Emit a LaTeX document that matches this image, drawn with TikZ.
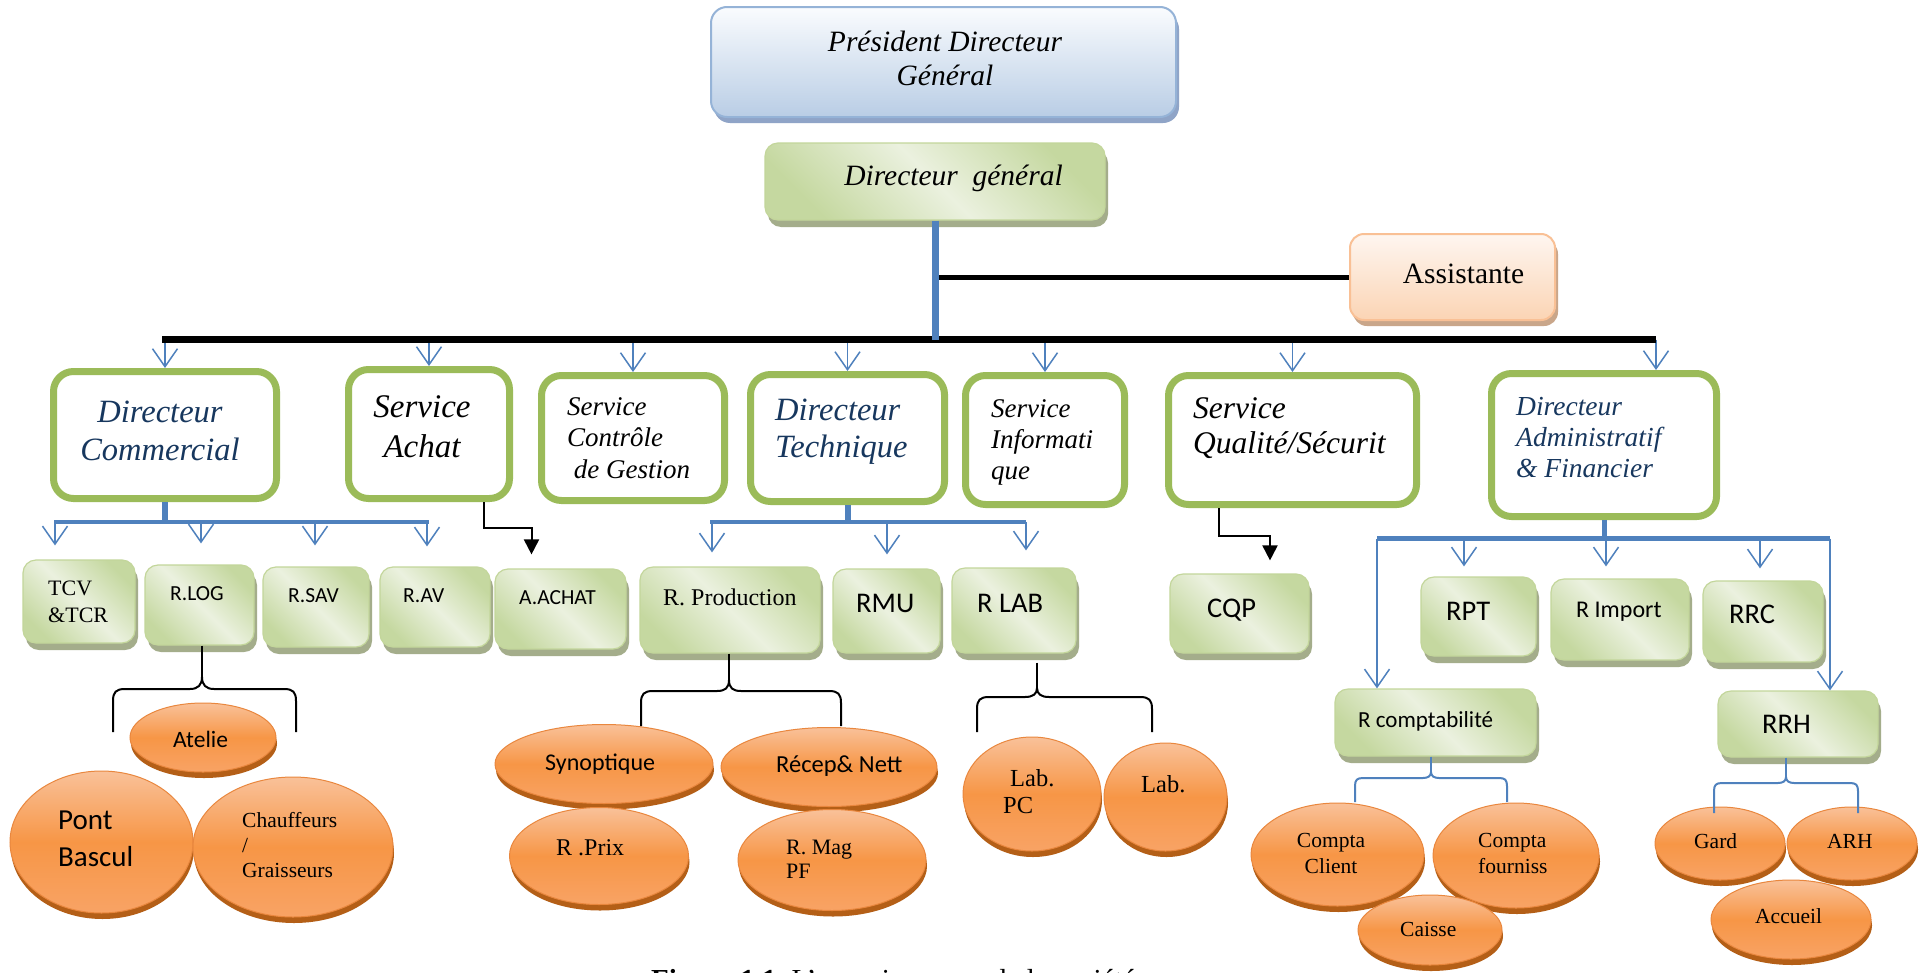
\documentclass[tikz,border=0pt]{standalone}
\usepackage{fontspec}
\setmainfont{Liberation Serif}
\newfontfamily\calib{Carlito}
\usetikzlibrary{arrows.meta,shapes.geometric,shadows}

\begin{document}
\begin{tikzpicture}[x=1pt, y=-1pt,
  lbl/.style={inner sep=0pt, anchor=base west, align=left},
  itxt/.style 2 args={font=\fontsize{#1}{#2}\selectfont\itshape},
  rtxt/.style 2 args={font=\fontsize{#1}{#2}\selectfont},
  stxt/.style 2 args={font=\calib\fontsize{#1}{#2}\selectfont},
  dirbox/.style={rectangle, rounded corners=20pt, draw=gBorder, line width=7pt,
    fill=white, inner sep=0pt},
  gbox/.style={rectangle, rounded corners=13pt, draw=gEdge, line width=1.2pt,
    inner sep=0pt, top color=gDark, bottom color=gDark, middle color=gLight,
    shading angle=-45,
    drop shadow={shadow xshift=3pt, shadow yshift=-7pt, fill=gShade, opacity=1}},
  oval/.style={ellipse, draw=oEdge, line width=1pt, inner sep=0pt,
    top color=oTop, bottom color=oBot, middle color=oMid,
    drop shadow={shadow xshift=1pt, shadow yshift=-6pt, fill=oShade, opacity=1}},
  barb/.style={draw=cBlue, line width=1.5pt, -{Straight Barb[length=18pt,width=25pt]}},
  elbow/.style={draw=black, line width=2pt, -{Triangle[length=15pt,width=15pt]}},
  brc/.style={draw=black, line width=2pt},
  bbrc/.style={draw=cBlue, line width=2pt}]

\definecolor{cBlue}{HTML}{4F81BD}
\definecolor{cNavy}{HTML}{17375E}
\definecolor{gBorder}{HTML}{9BBB59}
\definecolor{gDark}{HTML}{C5D8A0}
\definecolor{gLight}{HTML}{EBF1DF}
\definecolor{gEdge}{HTML}{C3D69B}
\definecolor{gShade}{HTML}{A4AD8B}
\definecolor{pTop}{HTML}{FAFCFE}
\definecolor{pBot}{HTML}{B9CDE5}
\definecolor{pEdge}{HTML}{95B3D7}
\definecolor{pShade}{HTML}{8FA4C7}
\definecolor{aTop}{HTML}{FEF6F0}
\definecolor{aBot}{HTML}{FBD4B4}
\definecolor{aEdge}{HTML}{F9C095}
\definecolor{aShade}{HTML}{C9A68A}
\definecolor{oTop}{HTML}{F9C199}
\definecolor{oMid}{HTML}{F79646}
\definecolor{oBot}{HTML}{F8A365}
\definecolor{oEdge}{HTML}{E9873E}
\definecolor{oShade}{HTML}{B45F17}

%% Geometry: one unit = one pixel of the 1921 x 972 sheet, y grows downwards.
%% Multi-line labels are placed by the baseline of their LAST line.
\fill[white, use as bounding box] (0,0) rectangle (1921,972);

%% ---------- top management ----------
\node[rectangle, rounded corners=16pt, draw=pEdge, line width=2pt, inner sep=0pt,
  top color=pTop, bottom color=pBot,
  drop shadow={shadow xshift=3pt, shadow yshift=-6pt, fill=pShade, opacity=1},
  minimum width=465pt, minimum height=110pt] (pdg) at (943.5,62) {};
\node[lbl, anchor=base, align=center, itxt={29.5}{34}] (pdg-t) at (945,85)
  {Président Directeur\\Général};

\node[gbox, minimum width=340pt, minimum height=77pt] (dg) at (935,181.5) {};
\node[lbl, anchor=base, itxt={29.5}{34}] (dg-t) at (953.5,185) {Directeur~ général};

\node[rectangle, rounded corners=14pt, draw=aEdge, line width=2pt, inner sep=0pt,
  top color=aTop, bottom color=aBot,
  drop shadow={shadow xshift=3pt, shadow yshift=-6pt, fill=aShade, opacity=1},
  minimum width=205pt, minimum height=86pt] (asst) at (1452.5,277) {};
\node[lbl, anchor=base, rtxt={29.5}{34}] (asst-t) at (1463.5,283) {Assistante};

%% ---------- directions and services ----------
\foreach \nm/\cx/\cy/\w/\h in {dc/165/435/223/127, sa/429/434/161/129,
    scg/633/438/183/125, dt/847.5/438/194/127, si/1045/440/159/129,
    sq/1292.5/440/248/129, daf/1604/445/225/143}
  \node[dirbox, minimum width=\w pt, minimum height=\h pt] (\nm) at (\cx,\cy) {};

\node[lbl, anchor=base, align=center, itxt={32.5}{38}, text=cNavy] (dc-t) at (160,460)
  {Directeur\\Commercial};
\node[lbl, anchor=base, align=center, itxt={33}{40}] (sa-t) at (422,457) {Service\\Achat};
\node[lbl, itxt={27}{31.5}] (scg-t) at (567,478) {Service\\Contrôle\\\ de Gestion};
\node[lbl, itxt={32.5}{37}, text=cNavy] (dt-t) at (775,457) {Directeur\\Technique};
\node[lbl, itxt={27}{31}] (si-t) at (991,479) {Service\\Informati\\que};
\node[lbl, itxt={31.5}{35}] (sq-t) at (1193,453) {Service\\Qualité/Sécurit};
\node[lbl, itxt={27.5}{31}, text=cNavy] (daf-t) at (1516,477)
  {Directeur\\Administratif\\\& Financier};

%% ---------- responsables ----------
\foreach \nm/\cx/\cy/\w/\h in {tcv/79/601.5/112/83, rlog/199.5/605/109/80,
    rsav/316/607/106/80, rav/435/607/110/80, aachat/560.5/609/131/80,
    rprod/730/610/180/86, rmu/886.5/611/107/84, rlab/1014/610.5/124/85,
    cqp/1239.5/613.5/139/79, rpt/1478.5/616.5/115/79, rimp/1620/619.5/138/81,
    rrc/1763/621.5/120/81, rcpt/1435.5/722.5/201/67, rrh/1798/724/160/66}
  \node[gbox, minimum width=\w pt, minimum height=\h pt] (\nm) at (\cx,\cy) {};

\node[lbl, rtxt={22}{27}] (tcv-t) at (48,622) {TCV\\\&TCR};
\foreach \nm/\x/\y/\lbl in {rlog/170/600/R.LOG, rsav/288/602/R.SAV,
    rav/403/602/R.AV, aachat/519/604/A.ACHAT}
  \node[lbl, stxt={21.5}{26}] (\nm-t) at (\x,\y) {\lbl};
\node[lbl, rtxt={24}{28}] (rprod-t) at (663,605) {R. Production};
\foreach \nm/\x/\y/\lbl in {rmu/856/612/RMU, rlab/977/612/R LAB, cqp/1207/617/CQP,
    rpt/1446/620/RPT, rrc/1729/623/RRC, rrh/1762/733/RRH}
  \node[lbl, stxt={28.5}{34}] (\nm-t) at (\x,\y) {\lbl};
\node[lbl, stxt={24}{29}] (rimp-t) at (1576,617) {R Import};
\node[lbl, stxt={23}{28}] (rcpt-t) at (1358,727) {R comptabilité};

%% ---------- agents (ovals, upper row first) ----------
\foreach \nm/\cx/\cy/\w/\h in {atelie/203/737.5/146/69, pont/101.5/842/183/142,
    chauff/293/847/200/140, synop/604/764/218/79, recep/829/767/216/79,
    rprix/599/856/179/97, rmag/832/860/188/101, labpc/1032/794/138/114,
    lab/1165.5/797/123/108, cclient/1337.5/854.5/173/103, cfour/1516/855.5/166/105,
    caisse/1430/930/144/70, gard/1720/843.5/130/73, arh/1852/843.5/130/73,
    accueil/1791/919.5/160/79}
  \node[oval, minimum width=\w pt, minimum height=\h pt] (\nm) at (\cx,\cy) {};

%% ---------- main bus ----------
\coordinate (busL) at (162,339.5);
\coordinate (busR) at (1656,339.5);
\foreach \n in {dc,sa,scg,dt,si,sq}
  \draw[barb] (\n.north |- busL) -- (\n.north);
\draw[barb] (busR) -- (busR |- daf.north);
\draw[line width=7pt] (busL) -- (busR);
\draw[line width=5pt] (dg.south |- asst.west) -- (asst.west);
\draw[cBlue, line width=7pt] (dg.south) -- (dg.south |- busL);

%% ---------- commercial ----------
\coordinate (cbusL) at (54,522);
\coordinate (cbusR) at (429,522);
\draw[cBlue, line width=6pt] (dc.south) -- (dc.south |- cbusL);
\foreach \n/\x/\g in {tcv/55/14, rlog/201/21, rsav/315/21, rav/427/20} {
  \coordinate (\n-in) at (\x,522);
  \draw[barb] (\n-in) -- ([yshift=\g pt]\n-in |- \n.north);
}
\draw[cBlue, line width=4.5pt] (cbusL) -- (cbusR);
\draw[elbow] ([xshift=55pt]sa.south) -- ++(0,26) -| ([xshift=-29pt,yshift=14pt]aachat.north);

%% ---------- technique ----------
\coordinate (tbusL) at (710,522);
\coordinate (tbusR) at (1026,522);
\draw[cBlue, line width=6pt] (dt.south) -- (dt.south |- tbusL);
\foreach \n/\x/\g in {rprod/712/14, rmu/887/14, rlab/1026/17} {
  \coordinate (\n-in) at (\x,522);
  \draw[barb] (\n-in) -- ([yshift=\g pt]\n-in |- \n.north);
}
\draw[cBlue, line width=4.5pt] (tbusL) -- (tbusR);
\draw[elbow] ([xshift=-73.5pt]sq.south) -- ++(0,27.5) -| ([xshift=30.5pt,yshift=13pt]cqp.north);

%% ---------- administratif ----------
\coordinate (abusL) at (1377,538.5);
\coordinate (abusR) at (1830,538.5);
\draw[cBlue, line width=5pt] (daf.south) -- (daf.south |- abusL);
\foreach \n/\x/\g in {rpt/1464/10, rimp/1606/12, rrc/1760/12} {
  \coordinate (\n-in) at (\x,538.5);
  \draw[barb] (\n-in) -- ([yshift=\g pt]\n-in |- \n.north);
}
\draw[barb] (abusL) -- (abusL |- rcpt.north);
\draw[barb] (abusR) -- (abusR |- rrh.north);
\draw[cBlue, line width=4.5pt] (abusL) -- (abusR);

%% ---------- braces down to the agents ----------
\draw[brc] ([xshift=2.5pt]rlog.south) -- (202,677);
\draw[brc] (113,732) -- (113,701) .. controls (113,692) and (116,689) .. (125,689)
  -- (190,689) .. controls (198,689) and (202,685) .. (202,677)
  .. controls (202,685) and (206,689) .. (214,689) -- (284,689)
  .. controls (293,689) and (296,692) .. (296,701) -- (296,732);

\draw[brc] ([xshift=-1pt]rprod.south) -- (729,680);
\draw[brc] (641,726) -- (641,703) .. controls (641,694) and (644,691) .. (653,691)
  -- (717,691) .. controls (725,691) and (729,688) .. (729,680)
  .. controls (729,688) and (733,691) .. (741,691) -- (829,691)
  .. controls (838,691) and (841,694) .. (841,703) -- (841,726);

\draw[brc] ([xshift=23pt,yshift=-9pt]rlab.south) -- (1037,688);
\draw[brc] (977,732) -- (977,709) .. controls (977,700) and (980,697) .. (989,697)
  -- (1025,697) .. controls (1033,697) and (1037,694) .. (1037,688)
  .. controls (1037,694) and (1041,697) .. (1049,697) -- (1140,697)
  .. controls (1149,697) and (1152,700) .. (1152,709) -- (1152,732);

\draw[bbrc] ([xshift=-4.5pt]rcpt.south) -- (1431,772);
\draw[bbrc] (1355,802) -- (1355,786) .. controls (1355,780) and (1357,778) .. (1363,778)
  -- (1423,778) .. controls (1428,778) and (1431,776) .. (1431,772)
  .. controls (1431,776) and (1434,778) .. (1439,778) -- (1499,778)
  .. controls (1505,778) and (1507,780) .. (1507,786) -- (1507,802);

\draw[bbrc] ([xshift=-12pt]rrh.south) -- (1786,777);
\draw[bbrc] (1714,813) -- (1714,791) .. controls (1714,785) and (1716,783) .. (1722,783)
  -- (1778,783) .. controls (1783,783) and (1786,781) .. (1786,777)
  .. controls (1786,781) and (1789,783) .. (1794,783) -- (1850,783)
  .. controls (1856,783) and (1858,785) .. (1858,791) -- (1858,813);

%% ---------- oval labels ----------
\node[lbl, stxt={23.5}{28}] (atelie-t) at (173,747) {Atelie};
\node[lbl, stxt={29}{37}] (pont-t) at (58,866) {Pont\\Bascul};
\node[lbl, rtxt={21.5}{25}] (chauff-t) at (242,877) {Chauffeurs\\/\\Graisseurs};
\node[lbl, stxt={24}{29}] (synop-t) at (545,770) {Synoptique};
\node[lbl, stxt={24.5}{29}] (recep-t) at (776,772) {Récep\& Nett};
\node[lbl, rtxt={24}{29}] (rprix-t) at (556,855) {R .Prix};
\node[lbl, rtxt={22}{23.5}] (rmag-t) at (786,878) {R. Mag\\PF};
\node[lbl, rtxt={24.5}{27}] (labpc-t) at (1003,813) {\hspace*{7pt}Lab.\\PC};
\node[lbl, rtxt={24.5}{29}] (lab-t) at (1141,792) {Lab.};
\node[lbl, anchor=base, align=center, rtxt={21.5}{26}] (cclient-t) at (1331,873)
  {Compta\\Client};
\node[lbl, rtxt={21.5}{26}] (cfour-t) at (1478,873) {Compta\\fourniss};
\foreach \nm/\x/\y/\lbl in {caisse/1400/936/Caisse, gard/1694/848/Gard,
    arh/1827/848/ARH, accueil/1755/923/Accueil}
  \node[lbl, rtxt={21.5}{26}] (\nm-t) at (\x,\y) {\lbl};

%% ---------- caption, cut by the sheet edge ----------
\node[lbl, rtxt={29}{34}] (caption) at (651,989)
  {\textbf{Figure 1.1} :L'organigramme de la société};

\end{tikzpicture}
\end{document}
